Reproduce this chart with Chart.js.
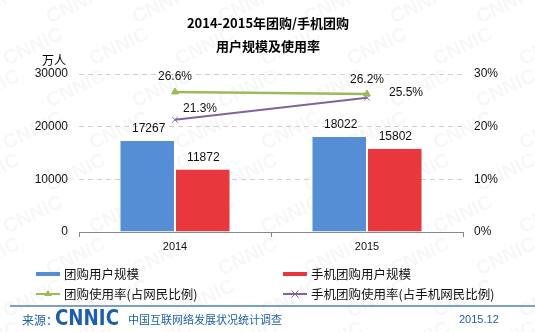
<!DOCTYPE html>
<html>
<head>
<meta charset="utf-8">
<script src="https://cdn.jsdelivr.net/npm/chart.js@4.4.0/dist/chart.umd.min.js"></script>
<style>
  html, body { margin: 0; padding: 0; background: #fff; }
  #wrap { position: relative; width: 535px; height: 332px; }
</style>
</head>
<body>
<div id="wrap"><canvas id="chart" width="535" height="332"></canvas></div>
<script>
// data
var years = ['2014', '2015'];
var groupUsers = [17267, 18022];        // 团购用户规模 (万人)
var mobileGroupUsers = [11872, 15802];  // 手机团购用户规模 (万人)
var groupRate = [26.6, 26.2];           // 团购使用率 (%)
var mobileGroupRate = [21.3, 25.5];     // 手机团购使用率 (%)
var leftTicks = [0, 10000, 20000, 30000];
var rightTicks = [0, 10, 20, 30];

var FONT = '"Liberation Sans", "Noto Sans CJK SC", sans-serif';
var CJK = '"Noto Sans CJK SC", "Liberation Sans", sans-serif';

// where each line label sits relative to its point [dx, dy, align]
var lineLabelPos = [
  [[0, -15, 'center'], [0, -14, 'center']],
  [[25, -11, 'center'], [22, -5, 'left']]
];

var watermark = {
  id: 'watermark',
  beforeDraw: function(chart) {
    var ctx = chart.ctx;
    ctx.save();
    ctx.fillStyle = 'rgba(0,0,0,0.03)';
    ctx.font = 'bold 20px ' + FONT;
    ctx.textAlign = 'center';
    ctx.textBaseline = 'middle';
    for (var row = 0; row < 9; row++) {
      for (var col = 0; col < 8; col++) {
        var x = col * 86 + (row % 2) * 43 - 10;
        var y = row * 42 + 5;
        ctx.save();
        ctx.translate(x, y);
        ctx.rotate(-0.45);
        ctx.fillText('CNNIC', 0, 0);
        ctx.restore();
      }
    }
    ctx.restore();
  }
};

var decorations = {
  id: 'decorations',
  afterDatasetsDraw: function(chart) {
    var ctx = chart.ctx;
    ctx.save();
    ctx.fillStyle = '#111';
    ctx.font = '12px ' + FONT;
    ctx.textBaseline = 'middle';
    // bar values
    [0, 1].forEach(function(di) {
      var meta = chart.getDatasetMeta(di);
      meta.data.forEach(function(bar, i) {
        ctx.textAlign = 'center';
        ctx.fillText(String(chart.data.datasets[di].data[i]), bar.x + 1, bar.y - 12);
      });
    });
    // line values
    [2, 3].forEach(function(di, k) {
      var meta = chart.getDatasetMeta(di);
      meta.data.forEach(function(pt, i) {
        var p = lineLabelPos[k][i];
        ctx.textAlign = p[2];
        ctx.fillText(chart.data.datasets[di].data[i].toFixed(1) + '%', pt.x + p[0], pt.y + p[1]);
      });
    });
    ctx.restore();
  },
  afterDraw: function(chart) {
    var ctx = chart.ctx;
    var ds = chart.data.datasets;
    ctx.save();
    // title
    ctx.fillStyle = '#000';
    ctx.textAlign = 'center';
    ctx.textBaseline = 'middle';
    ctx.font = 'bold 13px ' + CJK;
    ctx.fillText('2014-2015年团购/手机团购', 268, 23);
    ctx.fillText('用户规模及使用率', 268, 46);
    // unit
    ctx.font = '12px ' + CJK;
    ctx.fillText('万人', 54, 60);

    // legend
    var items = [
      {x: 36, y: 274, i: 0, kind: 'bar'},
      {x: 283, y: 274, i: 1, kind: 'bar'},
      {x: 36, y: 294, i: 2, kind: 'line'},
      {x: 283, y: 294, i: 3, kind: 'line'}
    ];
    items.forEach(function(it) {
      var d = ds[it.i];
      if (it.kind === 'bar') {
        ctx.fillStyle = d.backgroundColor;
        ctx.fillRect(it.x, it.y - 2, 24, 4);
      } else {
        ctx.strokeStyle = d.borderColor;
        ctx.lineWidth = 2;
        ctx.beginPath();
        ctx.moveTo(it.x, it.y);
        ctx.lineTo(it.x + 24, it.y);
        ctx.stroke();
        var cx = it.x + 12;
        if (d.pointStyle === 'triangle') {
          ctx.fillStyle = d.borderColor;
          ctx.beginPath();
          ctx.moveTo(cx, it.y - 4);
          ctx.lineTo(cx + 4, it.y + 2);
          ctx.lineTo(cx - 4, it.y + 2);
          ctx.closePath();
          ctx.fill();
        } else {
          ctx.lineWidth = 1;
          ctx.beginPath();
          ctx.moveTo(cx - 3.5, it.y - 3.5); ctx.lineTo(cx + 3.5, it.y + 3.5);
          ctx.moveTo(cx + 3.5, it.y - 3.5); ctx.lineTo(cx - 3.5, it.y + 3.5);
          ctx.stroke();
        }
      }
      ctx.fillStyle = '#111';
      ctx.textAlign = 'left';
      ctx.font = '12.5px ' + CJK;
      ctx.fillText(d.label, it.x + 28, it.y);
    });

    // footer
    ctx.strokeStyle = '#4F81BD';
    ctx.lineWidth = 1.5;
    ctx.beginPath();
    ctx.moveTo(10, 306);
    ctx.lineTo(535, 306);
    ctx.stroke();

    ctx.fillStyle = '#1F5FB0';
    ctx.textAlign = 'left';
    ctx.font = '12px ' + CJK;
    ctx.fillText('来源：', 22, 320);
    ctx.save();
    ctx.font = 'bold 21px "DejaVu Sans", sans-serif';
    var w = ctx.measureText('CNNIC').width;
    ctx.translate(55, 320);
    ctx.scale(64 / w, 1);
    ctx.fillStyle = '#1A5FB4';
    ctx.fillText('CNNIC', 0, 0);
    ctx.restore();
    ctx.font = '11px ' + CJK;
    ctx.fillText('中国互联网络发展状况统计调查', 128, 320);
    ctx.font = '11px ' + FONT;
    ctx.fillText('2015.12', 459, 320);
    ctx.restore();
  }
};

new Chart(document.getElementById('chart'), {
  data: {
    labels: years,
    datasets: [
      {
        type: 'bar', label: '团购用户规模', data: groupUsers, yAxisID: 'y',
        backgroundColor: '#568ED6', borderColor: '#ffffff', borderWidth: {left: 0, right: 1, top: 0, bottom: 0},
        categoryPercentage: 0.57, barPercentage: 1, order: 2
      },
      {
        type: 'bar', label: '手机团购用户规模', data: mobileGroupUsers, yAxisID: 'y',
        backgroundColor: '#E8383D', borderColor: '#ffffff', borderWidth: {left: 1, right: 0, top: 0, bottom: 0},
        categoryPercentage: 0.57, barPercentage: 1, order: 2
      },
      {
        type: 'line', label: '团购使用率(占网民比例)', data: groupRate, yAxisID: 'y1',
        borderColor: '#9BBB59', backgroundColor: '#9BBB59', borderWidth: 2.5,
        pointStyle: 'triangle', pointRadius: 4, pointBorderWidth: 1, order: 1
      },
      {
        type: 'line', label: '手机团购使用率(占手机网民比例)', data: mobileGroupRate, yAxisID: 'y1',
        borderColor: '#8064A2', backgroundColor: '#8064A2', borderWidth: 2,
        pointStyle: 'crossRot', pointRadius: 4, pointBorderWidth: 1, order: 1
      }
    ]
  },
  options: {
    responsive: false,
    animation: false,
    events: [],
    layout: { padding: { top: 74, left: 0, right: 0, bottom: 0 } },
    plugins: {
      legend: { display: false },
      title: { display: false },
      tooltip: { enabled: false }
    },
    scales: {
      x: {
        offset: true,
        afterFit: function(s) { s.height = 100; },
        grid: { offset: true, drawOnChartArea: false, drawTicks: true, tickLength: 5, color: '#888' },
        border: { display: true, color: '#888', width: 1 },
        ticks: { color: '#111', font: { size: 11, family: FONT }, padding: 3 }
      },
      y: {
        position: 'left',
        min: 0, max: 30000,
        afterFit: function(s) { s.width = 79; },
        afterBuildTicks: function(s) { s.ticks = leftTicks.map(function(v) { return {value: v}; }); },
        grid: {
          drawTicks: false,
          color: function(c) { return c.tick.value === 0 ? 'rgba(0,0,0,0)' : '#d0d0d0'; }
        },
        border: { display: false, dash: [5, 4] },
        ticks: {
          color: '#111', font: { size: 12, family: FONT }, padding: 11,
          callback: function(v) { return String(v); }
        }
      },
      y1: {
        position: 'right',
        min: 0, max: 30,
        afterFit: function(s) { s.width = 72; },
        afterBuildTicks: function(s) { s.ticks = rightTicks.map(function(v) { return {value: v}; }); },
        grid: { display: false, drawTicks: false },
        border: { display: false },
        ticks: {
          color: '#111', font: { size: 12, family: FONT }, padding: 11,
          callback: function(v) { return v + '%'; }
        }
      }
    }
  },
  plugins: [watermark, decorations]
});
</script>
</body>
</html>
